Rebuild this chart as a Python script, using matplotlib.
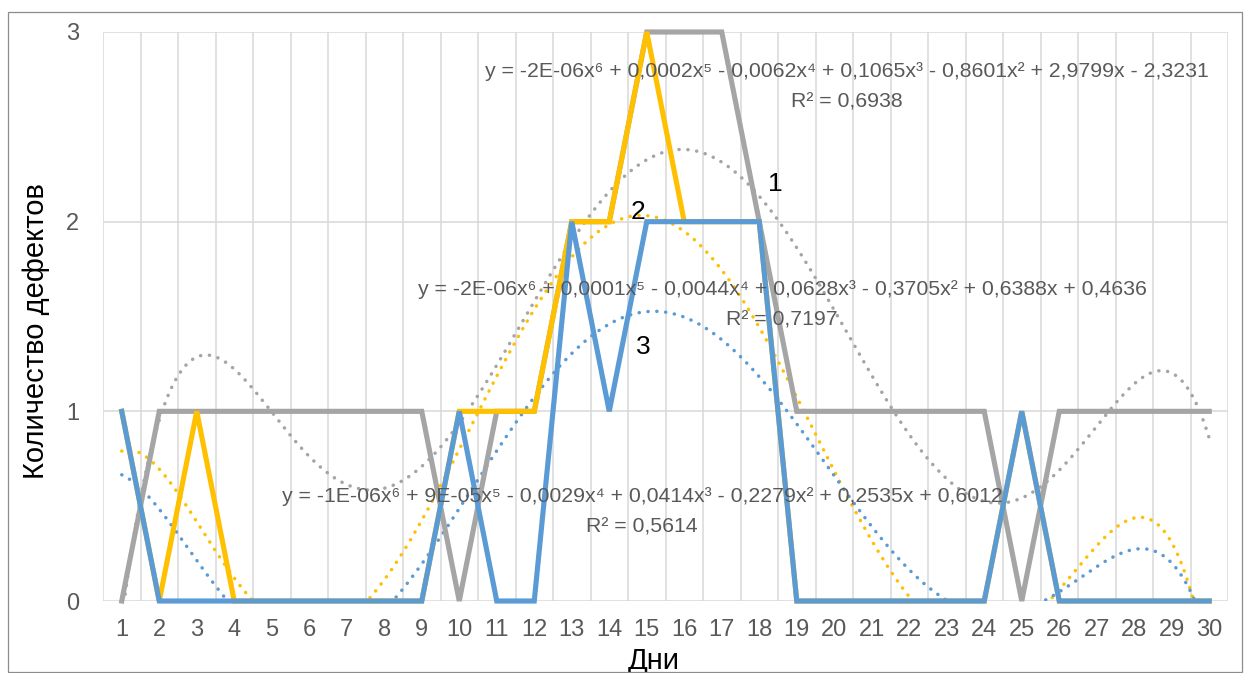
import numpy as np
import matplotlib
matplotlib.use("Agg")
import matplotlib.pyplot as plt
from matplotlib.patches import Rectangle

plt.rcParams["font.family"] = ["Liberation Sans Narrow", "Liberation Sans", "DejaVu Sans"]

# данные по дням
days = list(range(1, 31))
series_1 = [0, 1, 1, 1, 1, 1, 1, 1, 1, 0, 1, 1, 2, 2, 3, 3, 3, 2, 1, 1,
            1, 1, 1, 1, 0, 1, 1, 1, 1, 1]
series_2 = [1, 0, 1, 0, 0, 0, 0, 0, 0, 1, 1, 1, 2, 2, 3, 2, 2, 2, 0, 0,
            0, 0, 0, 0, 1, 0, 0, 0, 0, 0]
series_3 = [1, 0, 0, 0, 0, 0, 0, 0, 0, 1, 0, 0, 2, 1, 2, 2, 2, 2, 0, 0,
            0, 0, 0, 0, 1, 0, 0, 0, 0, 0]

eq_1 = "y = -2E-06x⁶ + 0,0002x⁵ - 0,0062x⁴ + 0,1065x³ - 0,8601x² + 2,9799x - 2,3231"
eq_2 = "y = -2E-06x⁶ + 0,0001x⁵ - 0,0044x⁴ + 0,0628x³ - 0,3705x² + 0,6388x + 0,4636"
eq_3 = "y = -1E-06x⁶ + 9E-05x⁵ - 0,0029x⁴ + 0,0414x³ - 0,2279x² + 0,2535x + 0,6012"
r2_1 = "R² = 0,6938"
r2_2 = "R² = 0,7197"
r2_3 = "R² = 0,5614"

GRAY, YELLOW, BLUE = "#A5A5A5", "#FFC000", "#5B9BD5"
TXT = "#595959"

fig = plt.figure(figsize=(12.44, 6.73), dpi=100)
ax = fig.add_axes([103 / 1244, 1 - 601 / 673, 1125 / 1244, 569 / 673])

# рамка области диаграммы
fig.patches.append(Rectangle((8 / 1244, 1 / 673), 1234 / 1244, 660 / 673,
                             transform=fig.transFigure, fill=False,
                             edgecolor="#8c8c8c", lw=0.9))

x = np.array(days, dtype=float)
xs = np.linspace(1, 30, 400)

# линии тренда (полином 6-й степени)
for ys, c in ((series_1, GRAY), (series_2, YELLOW), (series_3, BLUE)):
    coef = np.polyfit(x, np.array(ys, dtype=float), 6)
    ax.plot(xs, np.polyval(coef, xs), color=c, lw=2.5,
            linestyle=(0, (0.05, 2.5)), dash_capstyle="round", zorder=2)

for ys, c in ((series_1, GRAY), (series_2, YELLOW), (series_3, BLUE)):
    ax.plot(days, ys, color=c, lw=3.7, solid_joinstyle="miter",
            clip_on=False, zorder=3)

ax.set_xlim(0.5, 30.5)
ax.set_ylim(0, 3)
ax.set_xticks(days)
ax.set_xticks(np.arange(0.5, 31, 1), minor=True)
ax.set_yticks([0, 1, 2, 3])
ax.grid(True, which="minor", axis="x", color="#d9d9d9", lw=1.1)
ax.grid(True, which="major", axis="y", color="#d9d9d9", lw=1.1)
ax.set_axisbelow(True)
for s in ax.spines.values():
    s.set_visible(False)
ax.tick_params(which="both", length=0, labelsize=17, labelcolor=TXT)
ax.tick_params(axis="x", pad=13)
ax.tick_params(axis="y", pad=17)

ax.set_xlabel("Дни", fontsize=21)
ax.set_ylabel("Количество дефектов", fontsize=21)
ax.xaxis.set_label_coords(0.49, -0.08)
ax.yaxis.set_label_coords(-0.047, 0.475)

# подписи уравнений трендов
kw = dict(ha="center", va="center", fontsize=15.3, color=TXT, zorder=4)
ax.text(20.34, 2.79, eq_1, **kw)
ax.text(20.34, 2.63, r2_1, **kw)
ax.text(18.61, 1.64, eq_2, **kw)
ax.text(18.61, 1.48, r2_2, **kw)
ax.text(14.87, 0.55, eq_3, **kw)
ax.text(14.87, 0.39, r2_3, **kw)

nk = dict(ha="center", va="center", fontsize=19, color="black", zorder=5)
ax.text(18.42, 2.2, "1", **nk)
ax.text(14.77, 2.05, "2", **nk)
ax.text(14.9, 1.34, "3", **nk)

fig.savefig("out.png", dpi=100)
